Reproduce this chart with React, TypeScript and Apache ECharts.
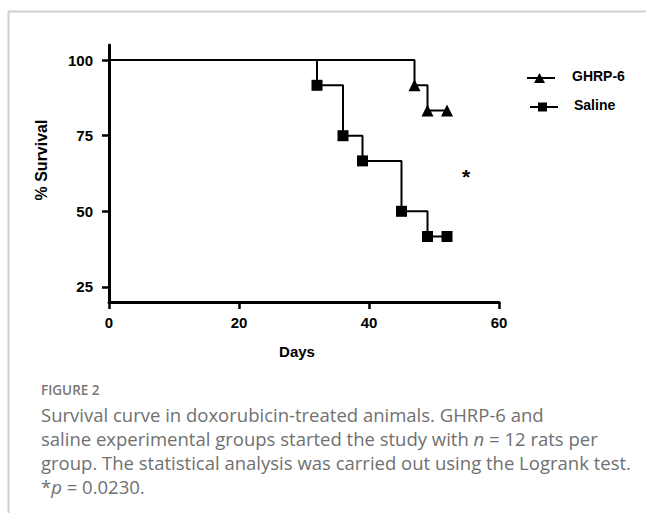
import React, { useEffect, useRef } from "react";
import * as echarts from "echarts";

const DAYS_SALINE = [0, 32, 36, 39, 45, 49, 52];
const SURV_SALINE = [100, 91.67, 75, 66.67, 50, 41.67, 41.67];
const DAYS_GHRP = [0, 47, 49, 52];
const SURV_GHRP = [100, 91.67, 83.33, 83.33];
const Y_TICKS = [25, 50, 75, 100];
const X_TICKS = [0, 20, 40, 60];
const SERIES_NAMES = ["GHRP-6", "Saline"];

const AX_FONT = "'Liberation Sans', Arial, Helvetica, sans-serif";
const CAP_FONT = "'Open Sans', 'Noto Sans', sans-serif";
const CAP_COLOR = "#707070";
const CAP_SIZE = 18.5;
const CAP_LH = 20;

function toPoints(days: number[], surv: number[]) {
  return days.map((d, i) =>
    i === 0 ? { value: [d, surv[i]], symbol: "none" } : { value: [d, surv[i]] }
  );
}

export default function App() {
  const ref = useRef<HTMLDivElement>(null);
  useEffect(() => {
    if (!ref.current) return;
    const chart = echarts.init(ref.current, null, { renderer: "svg" });
    const capBase = { fontFamily: CAP_FONT, fontSize: CAP_SIZE, lineHeight: CAP_LH, fill: CAP_COLOR };
    const capRich = {
      a: { fontFamily: CAP_FONT, fontSize: CAP_SIZE, lineHeight: CAP_LH, fill: CAP_COLOR, color: CAP_COLOR },
      i: { fontFamily: CAP_FONT, fontSize: CAP_SIZE, lineHeight: CAP_LH, fontStyle: "italic", fill: CAP_COLOR, color: CAP_COLOR },
    };
    const option: any = {
      animation: false,
      backgroundColor: "#ffffff",
      grid: { left: 109, top: 45, width: 390, height: 257 },
      xAxis: {
        type: "value",
        min: 0,
        max: 60,
        interval: 20,
        axisLine: { show: true, lineStyle: { color: "#000", width: 3 } },
        axisTick: { show: true, length: 7, lineStyle: { color: "#000", width: 2.5 } },
        axisLabel: {
          margin: 13,
          color: "#000",
          fontWeight: "bold",
          fontSize: 15,
          fontFamily: AX_FONT,
          customValues: X_TICKS,
        },
        splitLine: { show: false },
      },
      yAxis: {
        type: "value",
        min: 20,
        max: 105,
        axisLine: { show: true, onZero: false, lineStyle: { color: "#000", width: 3 } },
        axisTick: {
          show: true,
          length: 7,
          customValues: Y_TICKS,
          lineStyle: { color: "#000", width: 2.5 },
        },
        axisLabel: {
          margin: 16,
          color: "#000",
          fontWeight: "bold",
          fontSize: 15,
          fontFamily: AX_FONT,
          customValues: Y_TICKS,
        },
        splitLine: { show: false },
      },
      series: [
        {
          name: SERIES_NAMES[1],
          type: "line",
          step: "end",
          data: toPoints(DAYS_SALINE, SURV_SALINE),
          symbol: "rect",
          symbolSize: 11,
          showAllSymbol: true,
          lineStyle: { color: "#000", width: 2 },
          itemStyle: { color: "#000" },
          z: 3,
        },
        {
          name: SERIES_NAMES[0],
          type: "line",
          step: "end",
          data: toPoints(DAYS_GHRP, SURV_GHRP),
          symbol: "triangle",
          symbolSize: 12,
          showAllSymbol: true,
          lineStyle: { color: "#000", width: 2 },
          itemStyle: { color: "#000" },
          z: 4,
        },
      ],
      graphic: [
        // frame
        { type: "line", shape: { x1: 8, y1: 11.5, x2: 646, y2: 11.5 }, style: { stroke: "#cfcfcf", lineWidth: 2 }, silent: true },
        { type: "line", shape: { x1: 8.5, y1: 11, x2: 8.5, y2: 513 }, style: { stroke: "#cfcfcf", lineWidth: 2 }, silent: true },
        // y axis title
        {
          type: "text",
          x: 41,
          y: 160,
          rotation: Math.PI / 2,
          style: {
            text: "% Survival",
            fontFamily: AX_FONT,
            fontWeight: "bold",
            fontSize: 16,
            fill: "#000",
            align: "center",
            verticalAlign: "middle",
          },
        },
        // x axis title
        {
          type: "text",
          x: 297,
          y: 351,
          style: {
            text: "Days",
            fontFamily: AX_FONT,
            fontWeight: "bold",
            fontSize: 15,
            fill: "#000",
            align: "center",
            verticalAlign: "middle",
          },
        },
        // legend GHRP-6
        { type: "line", shape: { x1: 527, y1: 78, x2: 555, y2: 78 }, style: { stroke: "#000", lineWidth: 2 } },
        { type: "polygon", shape: { points: [[539.5, 73], [545, 83], [534, 83]] }, style: { fill: "#000" } },
        {
          type: "text",
          x: 572,
          y: 76,
          style: { text: SERIES_NAMES[0], fontFamily: AX_FONT, fontWeight: "bold", fontSize: 14, fill: "#000", align: "left", verticalAlign: "middle" },
        },
        // legend Saline
        { type: "line", shape: { x1: 530, y1: 107, x2: 558, y2: 107 }, style: { stroke: "#000", lineWidth: 2 } },
        { type: "rect", shape: { x: 538, y: 102.5, width: 9, height: 9 }, style: { fill: "#000" } },
        {
          type: "text",
          x: 574,
          y: 105,
          style: { text: SERIES_NAMES[1], fontFamily: AX_FONT, fontWeight: "bold", fontSize: 14, fill: "#000", align: "left", verticalAlign: "middle" },
        },
        // significance
        {
          type: "text",
          x: 466,
          y: 176,
          style: { text: "*", fontFamily: AX_FONT, fontWeight: "bold", fontSize: 21, fill: "#000", align: "center", verticalAlign: "middle" },
        },
        // caption
        {
          type: "text",
          x: 41,
          y: 390,
          style: { text: "FIGURE 2", fontFamily: CAP_FONT, fontSize: 13.5, lineHeight: 14, fontWeight: 600, fill: "#777", align: "left", verticalAlign: "middle" },
        },
        {
          type: "text",
          x: 41,
          y: 414,
          style: { ...capBase, text: "Survival curve in doxorubicin-treated animals. GHRP-6 and", align: "left", verticalAlign: "middle" },
        },
        {
          type: "text",
          x: 41,
          y: 438,
          style: {
            ...capBase,
            text: "{a|saline experimental groups started the study with }{i|n}{a| = 12 rats per}",
            align: "left",
            verticalAlign: "middle",
            rich: capRich,
          },
        },
        {
          type: "text",
          x: 41,
          y: 462,
          style: { ...capBase, text: "group. The statistical analysis was carried out using the Logrank test.", align: "left", verticalAlign: "middle" },
        },
        {
          type: "text",
          x: 41,
          y: 486,
          style: {
            ...capBase,
            text: "{a|*}{i|p}{a| = 0.0230.}",
            align: "left",
            verticalAlign: "middle",
            rich: capRich,
          },
        },
      ],
    };
    chart.setOption(option);
    return () => chart.dispose();
  }, []);
  return (
    <div
      ref={ref}
      style={{ position: "fixed", left: 0, top: 0, width: 646, height: 513, background: "#fff" }}
    />
  );
}
